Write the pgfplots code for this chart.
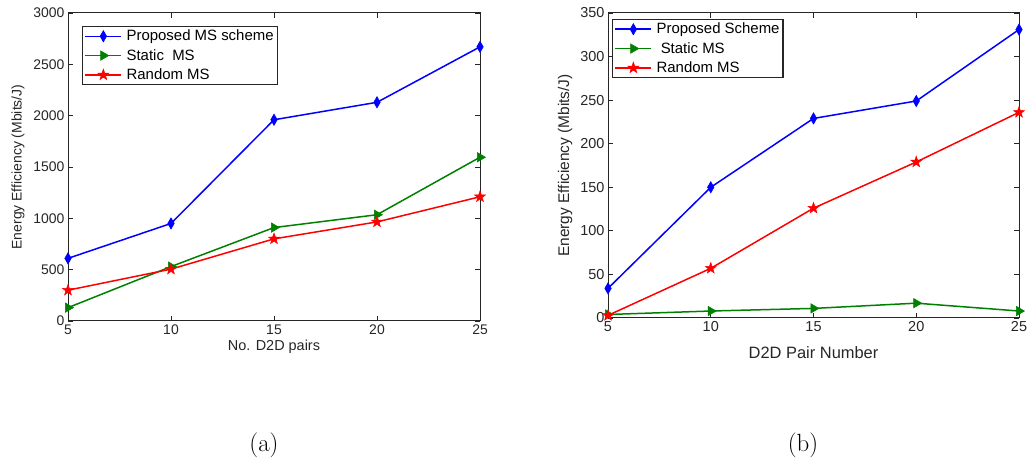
\documentclass[border=0pt]{standalone}
\usepackage{fontspec}
\usepackage{pgfplots}
\pgfplotsset{compat=1.18}
\newfontfamily\arial{Liberation Sans}
\definecolor{mgreen}{rgb}{0,0.5,0}
\definecolor{axgray}{rgb}{0.15,0.15,0.15}

% filled five-pointed star
\pgfdeclareplotmark{pentagram}{%
  \pgfpathmoveto{\pgfpointpolar{90}{\pgfplotmarksize}}%
  \pgfpathlineto{\pgfpointpolar{126}{0.40\pgfplotmarksize}}%
  \pgfpathlineto{\pgfpointpolar{162}{\pgfplotmarksize}}%
  \pgfpathlineto{\pgfpointpolar{198}{0.40\pgfplotmarksize}}%
  \pgfpathlineto{\pgfpointpolar{234}{\pgfplotmarksize}}%
  \pgfpathlineto{\pgfpointpolar{270}{0.40\pgfplotmarksize}}%
  \pgfpathlineto{\pgfpointpolar{306}{\pgfplotmarksize}}%
  \pgfpathlineto{\pgfpointpolar{342}{0.40\pgfplotmarksize}}%
  \pgfpathlineto{\pgfpointpolar{18}{\pgfplotmarksize}}%
  \pgfpathlineto{\pgfpointpolar{54}{0.40\pgfplotmarksize}}%
  \pgfpathclose\pgfusepathqfillstroke}

\pgfplotsset{
  eeaxis/.style={
    scale only axis,
    xmin=5, xmax=25, xtick={5,10,15,20,25},
    ymin=0,
    tick align=inside, tick pos=both,
    major tick length=5bp,
    axis line style={line width=1bp, axgray},
    every tick/.style={axgray, line width=0.8bp},
    ticklabel style={text=axgray},
    /pgf/number format/assume math mode=true,
    /pgf/number format/set thousands separator={},
    legend cell align=left,
    legend image code/.code={\draw[mark repeat=2,mark phase=2]
      plot coordinates {(0bp,0bp) (18bp,0bp) (36bp,0bp)};},
    legend style={draw=axgray, line width=1.2bp, fill=white,
      inner sep=2bp, row sep=4bp, column sep=3bp,
      nodes={inner sep=1.5bp}},
  },
  prop/.style={blue, line width=1.5bp, mark=diamond*, mark size=4.3bp,
    mark options={yscale=1.3, fill=blue, solid, line width=0.6bp}},
  stat/.style={mgreen, line width=1.5bp, mark=triangle*, mark size=5.4bp,
    mark options={rotate=-90, fill=mgreen, solid, line width=0.6bp}},
  rand/.style={red, line width=1.5bp, mark=pentagram, mark size=5.8bp,
    mark options={fill=red, solid, line width=0.5bp}},
}

\begin{document}
\begin{tikzpicture}[x=1bp,y=1bp]
\useasboundingbox (0,0) rectangle (1029,463);

% (a) energy efficiency versus number of D2D pairs
\begin{axis}[eeaxis,
  at={(68bp,142bp)}, anchor=south west,
  width=412bp, height=308bp,
  ymax=3000, ytick={0,500,...,3000},
  ticklabel style={font=\arial\fontsize{14}{14}\selectfont},
  xlabel={No. D2D pairs},
  ylabel={Energy Efficiency (Mbits/J)},
  xlabel style={font=\arial\fontsize{14.5}{15}\selectfont, text=axgray,
    at={(axis description cs:0.5,0)}, anchor=center, yshift=-26bp},
  ylabel style={font=\arial\fontsize{14}{15}\selectfont, text=axgray,
    at={(axis description cs:0,0.5)}, anchor=center, yshift=50bp},
  legend style={font=\arial\fontsize{15}{16}\selectfont,
    at={(axis description cs:0,1)}, anchor=north west,
    xshift=14bp, yshift=-13bp},
]
\addplot[prop] coordinates {(5,610) (10,950) (15,1960) (20,2130) (25,2670)};
\addlegendentry{Proposed MS scheme}
\addplot[stat] coordinates {(5,130) (10,530) (15,910) (20,1035) (25,1595)};
\addlegendentry{Static\ \ MS}
\addplot[rand] coordinates {(5,300) (10,505) (15,800) (20,965) (25,1210)};
\addlegendentry{Random MS}
\end{axis}

% (b) energy efficiency versus D2D pair number
\begin{axis}[eeaxis,
  at={(608bp,145bp)}, anchor=south west,
  width=411bp, height=305bp,
  ymax=350, ytick={0,50,...,350},
  ticklabel style={font=\arial\fontsize{14.5}{15}\selectfont},
  xlabel={D2D Pair Number},
  ylabel={Energy Efficiency (Mbits/J)},
  xlabel style={font=\arial\fontsize{16.5}{17}\selectfont, text=axgray,
    at={(axis description cs:0.5,0)}, anchor=center, yshift=-35bp},
  ylabel style={font=\arial\fontsize{15.5}{16}\selectfont, text=axgray,
    at={(axis description cs:0,0.5)}, anchor=center, yshift=43bp},
  legend style={font=\arial\fontsize{15}{16}\selectfont,
    at={(axis description cs:0,1)}, anchor=north west,
    xshift=4bp, yshift=-6bp},
]
\addplot[prop] coordinates {(5,34) (10,150) (15,229) (20,249) (25,331)};
\addlegendentry{Proposed Scheme}
\addplot[stat] coordinates {(5,4) (10,8) (15,11) (20,17) (25,8)};
\addlegendentry{\ Static MS}
\addplot[rand] coordinates {(5,3) (10,57) (15,126) (20,179) (25,236)};
\addlegendentry{Random MS}
\end{axis}

\node[font=\fontsize{25}{30}\selectfont] at (264,18) {(a)};
\node[font=\fontsize{25}{30}\selectfont] at (803,18) {(b)};
\end{tikzpicture}
\end{document}
